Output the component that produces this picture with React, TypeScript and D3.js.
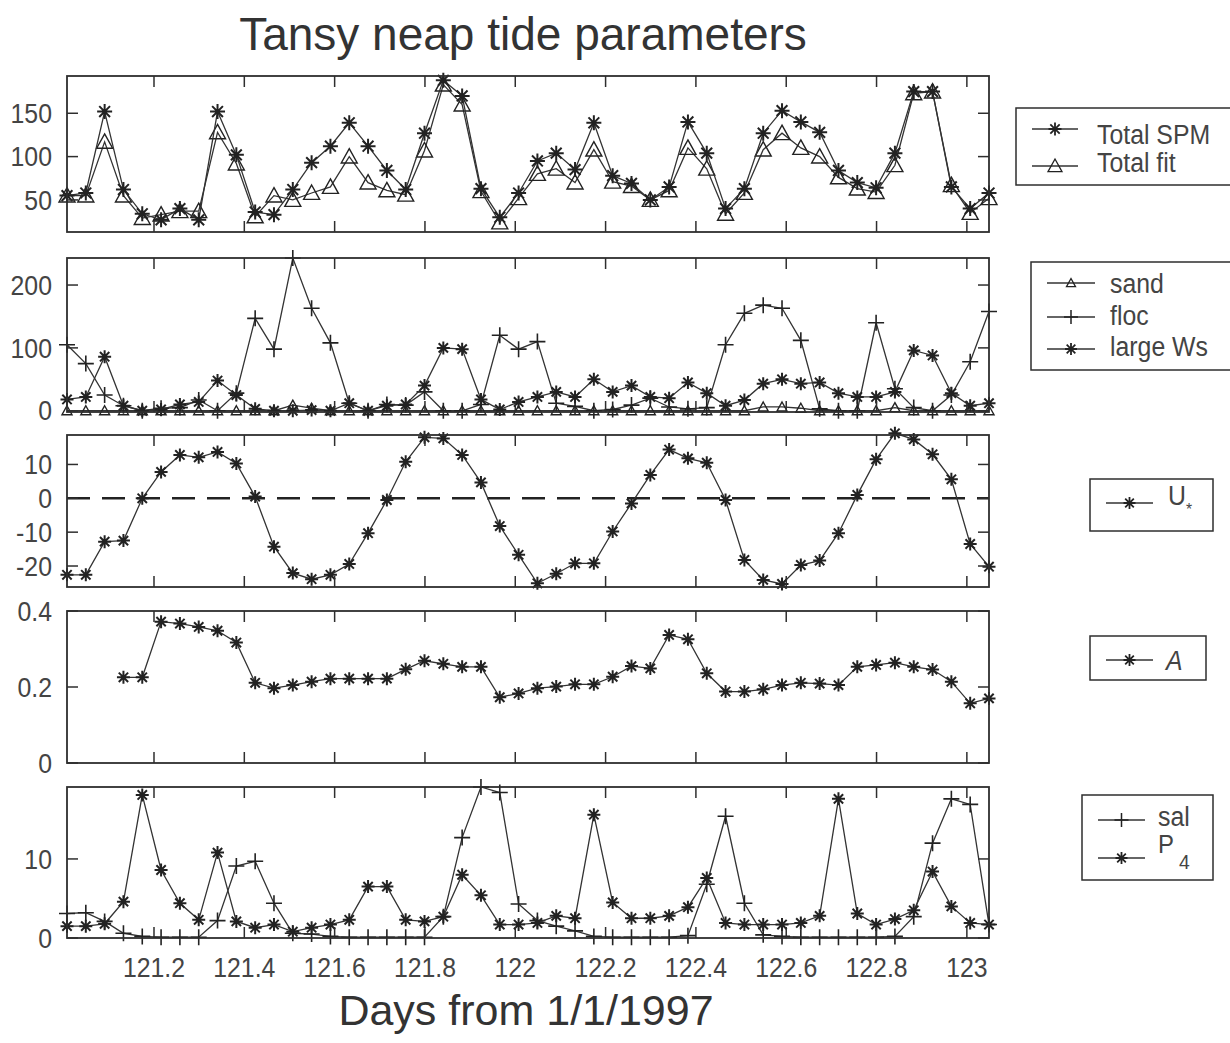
import React from 'react';
import * as d3 from 'd3';

// ---------- data ----------
const HOURS = d3.range(50); // hourly samples
const T0 = 121.00735;
const xTicks = [121.2, 121.4, 121.6, 121.8, 122, 122.2, 122.4, 122.6, 122.8, 123];
const xTickLabels = ['121.2', '121.4', '121.6', '121.8', '122', '122.2', '122.4', '122.6', '122.8', '123'];

const totalSPM = [55, 58, 152, 62, 34, 27, 40, 27, 152, 102, 36, 33, 62, 93, 112, 139, 112, 84, 62, 127, 188, 170, 63, 30, 58, 95, 104, 85, 139, 78, 69, 50, 65, 140, 104, 40, 63, 127, 153, 140, 128, 84, 70, 64, 104, 175, 175, 65, 40, 58];
const totalFit = [55, 55, 117, 55, 29, 33, 37, 37, 128, 92, 31, 55, 50, 58, 65, 100, 70, 61, 56, 107, 183, 160, 60, 24, 52, 80, 86, 70, 108, 71, 66, 50, 61, 110, 86, 34, 58, 108, 127, 110, 100, 76, 63, 59, 90, 173, 175, 67, 35, 52];

const sand = [0, 0, 0, 0, 0, 0, 0, 0, 0, 0, 0, 0, 9, 4, 0, 0, 0, 0, 0, 0, 0, 0, 0, 0, 0, 0, 0, 0, 0, 0, 0, 0, 0, 0, 0, 0, 0, 6, 6, 4, 0, 0, 0, 0, 5, 0, 0, 0, 0, 0];
const floc = [105, 75, 25, 8, 0, 4, 5, 17, 0, 28, 147, 98, 243, 163, 108, 12, 0, 10, 9, 30, 0, 0, 10, 120, 98, 110, 12, 7, 0, 2, 9, 20, 6, 3, 5, 105, 155, 168, 163, 112, 3, 0, 0, 140, 35, 5, 0, 25, 78, 158];
const largeWs = [18, 22, 86, 8, 0, 2, 10, 14, 48, 25, 3, 0, 0, 1, 0, 12, 0, 8, 10, 40, 100, 98, 18, 2, 14, 22, 30, 22, 50, 30, 40, 22, 20, 45, 28, 8, 17, 43, 50, 43, 45, 28, 22, 22, 30, 96, 88, 28, 8, 12];

const uStar = [-22.6, -22.6, -12.8, -12.5, 0, 7.8, 12.8, 12.1, 13.7, 10.3, 0.5, -14.3, -22.1, -23.9, -22.6, -19.4, -10.3, -0.5, 10.8, 18, 17.7, 12.8, 4.7, -8.2, -16.7, -25.1, -22.3, -19.2, -19.2, -9.8, -1.5, 6.9, 14.4, 11.8, 10.5, -0.5, -18.2, -24.1, -25.3, -19.7, -18.4, -10.3, 1, 11.5, 19.2, 17.4, 13, 5.6, -13.5, -20.2];

const aParam = [null, null, null, 0.2255, 0.2255, 0.372, 0.367, 0.358, 0.348, 0.317, 0.211, 0.197, 0.205, 0.214, 0.222, 0.222, 0.222, 0.222, 0.2465, 0.269, 0.261, 0.253, 0.253, 0.173, 0.183, 0.197, 0.201, 0.207, 0.207, 0.227, 0.255, 0.249, 0.337, 0.3255, 0.236, 0.188, 0.188, 0.194, 0.205, 0.211, 0.209, 0.205, 0.253, 0.258, 0.264, 0.253, 0.246, 0.214, 0.157, 0.17];

const sal = [3.1, 3.2, 2.1, 0.6, 0.2, 0.1, 0.1, 0.1, 2.2, 9.1, 9.7, 4.4, 0.6, 0.5, 0.2, 0.1, 0.1, 0.1, 0.1, 0.1, 2.7, 12.7, 19.1, 18.4, 4.3, 2.2, 1.5, 0.9, 0.2, 0.1, 0.1, 0.1, 0.1, 0.3, 6.8, 15.4, 4.4, 0.4, 0.2, 0.1, 0.1, 0.1, 0.1, 0.1, 0.2, 2.7, 12.0, 17.6, 16.9, 1.7];
const p4 = [1.5, 1.5, 1.8, 4.6, 18.1, 8.6, 4.4, 2.3, 10.8, 2.1, 1.3, 1.7, 0.8, 1.3, 1.7, 2.3, 6.5, 6.5, 2.3, 2.1, 2.7, 8.0, 5.4, 1.7, 1.7, 1.9, 2.8, 2.5, 15.6, 4.5, 2.5, 2.5, 2.8, 3.9, 7.6, 1.9, 1.7, 1.7, 1.7, 1.9, 2.8, 17.6, 3.1, 1.7, 2.4, 3.5, 8.4, 4.0, 1.9, 1.7];

const spmTicks = [50, 100, 150];
const spmTickLabels = ['50', '100', '150'];
const compTicks = [0, 100, 200];
const compTickLabels = ['0', '100', '200'];
const uTicks = [-20, -10, 0, 10];
const uTickLabels = ['-20', '-10', '0', '10'];
const aTicks = [0, 0.2, 0.4];
const aTickLabels = ['0', '0.2', '0.4'];
const pTicks = [0, 10];
const pTickLabels = ['0', '10'];

// ---------- drawing helpers ----------
const L = 67;
const R = 989;
const TICK = 11;
const INK = '#2e2e2e';
const TXT = '#444';
const FONT = "'Liberation Sans', Arial, sans-serif";
const SX = 0.92;

const x = d3.scaleLinear().domain([T0, T0 + 49 / 24]).range([L, R]);
const times = HOURS.map((h) => T0 + h / 24);

function markerPath(kind: string, r: number) {
  if (kind === 'star') {
    const d = r * 0.72;
    return `M${-r},0H${r}M0,${-r}V${r}M${-d},${-d}L${d},${d}M${-d},${d}L${d},${-d}`;
  }
  if (kind === 'plus') return `M${-r},0H${r}M0,${-r}V${r}`;
  return `M0,${-r}L${r},${r * 0.8}L${-r},${r * 0.8}Z`;
}

type Series = { values: (number | null)[]; marker: string; r: number; sw: number };

function Panel(props: {
  top: number; bottom: number; domain: [number, number];
  ticks: number[]; labels: string[]; series: Series[]; dashedZero?: boolean; xLabels?: boolean;
}) {
  const { top, bottom, domain, ticks, labels, series, dashedZero, xLabels } = props;
  const y = d3.scaleLinear().domain(domain).range([bottom, top]);
  return (
    <g>
      {dashedZero && (
        <line x1={L} x2={R} y1={y(0)} y2={y(0)} stroke="#222" strokeWidth={2.6} strokeDasharray="23 12" />
      )}
      {series.map((s, si) => {
        const line = d3.line<number | null>()
          .defined((v) => v !== null)
          .x((_, i) => x(times[i]))
          .y((v) => y(v as number));
        return (
          <g key={si}>
            <path d={line(s.values) || ''} fill="none" stroke="#333" strokeWidth={1.3} />
            {s.values.map((v, i) => v === null ? null : (
              <path key={i} d={markerPath(s.marker, s.r)} transform={`translate(${x(times[i])},${y(v)})`}
                fill="none" stroke="#222" strokeWidth={s.sw} />
            ))}
          </g>
        );
      })}
      <rect x={L} y={top} width={R - L} height={bottom - top} fill="none" stroke={INK} strokeWidth={1.8} />
      {xTicks.map((t) => (
        <g key={t}>
          <line x1={x(t)} x2={x(t)} y1={top} y2={top + TICK} stroke={INK} strokeWidth={1.5} />
          <line x1={x(t)} x2={x(t)} y1={bottom} y2={bottom - TICK} stroke={INK} strokeWidth={1.5} />
        </g>
      ))}
      {ticks.map((t, i) => (
        <g key={t}>
          <line x1={L} x2={L + TICK} y1={y(t)} y2={y(t)} stroke={INK} strokeWidth={1.5} />
          <line x1={R} x2={R - TICK} y1={y(t)} y2={y(t)} stroke={INK} strokeWidth={1.5} />
          <text transform={`translate(52,${y(t)}) scale(${SX},1)`} dy="0.36em" textAnchor="end"
            fontFamily={FONT} fontSize={27} fill={TXT}>{labels[i]}</text>
        </g>
      ))}
      {xLabels && xTicks.map((t, i) => (
        <text key={t} transform={`translate(${x(t)},977) scale(${SX},1)`} textAnchor="middle"
          fontFamily={FONT} fontSize={27} fill={TXT}>{xTickLabels[i]}</text>
      ))}
    </g>
  );
}

function LegendRow(props: { x1: number; x2: number; y: number; marker: string; r: number; sw: number }) {
  const { x1, x2, y, marker, r, sw } = props;
  return (
    <g>
      <line x1={x1} x2={x2} y1={y} y2={y} stroke="#333" strokeWidth={1.4} />
      <path d={markerPath(marker, r)} transform={`translate(${(x1 + x2) / 2},${y})`} fill="none" stroke="#222" strokeWidth={sw} />
    </g>
  );
}

function LText(props: { x: number; y: number; children: React.ReactNode; size?: number; italic?: boolean }) {
  return (
    <text transform={`translate(${props.x},${props.y}) scale(${SX},1)`} fontFamily={FONT}
      fontSize={props.size || 27} fill={TXT} fontStyle={props.italic ? 'italic' : 'normal'}>{props.children}</text>
  );
}

export default function App() {
  return (
    <div style={{ position: 'absolute', left: 0, top: 0 }}>
      <svg width={1230} height={1043} viewBox="0 0 1230 1043" style={{ display: 'block', background: '#fff' }}>
        <rect x={0} y={0} width={1230} height={1043} fill="#fff" />
        <text x={523} y={50} textAnchor="middle" fontFamily={FONT} fontSize={46} fill="#333">Tansy neap tide parameters</text>

        <Panel top={76} bottom={232} domain={[13, 193]} ticks={spmTicks} labels={spmTickLabels}
          series={[
            { values: totalFit, marker: 'tri', r: 8, sw: 1.4 },
            { values: totalSPM, marker: 'star', r: 7.5, sw: 2 },
          ]} />
        <Panel top={258} bottom={412} domain={[-2, 243]} ticks={compTicks} labels={compTickLabels}
          series={[
            { values: sand, marker: 'tri', r: 5, sw: 1.4 },
            { values: floc, marker: 'plus', r: 8, sw: 1.6 },
            { values: largeWs, marker: 'star', r: 6.5, sw: 2 },
          ]} />
        <Panel top={435} bottom={587} domain={[-26.2, 18.7]} ticks={uTicks} labels={uTickLabels} dashedZero
          series={[{ values: uStar, marker: 'star', r: 6.5, sw: 2 }]} />
        <Panel top={611} bottom={763} domain={[0, 0.4]} ticks={aTicks} labels={aTickLabels}
          series={[{ values: aParam, marker: 'star', r: 6.5, sw: 2 }]} />
        <Panel top={787} bottom={938} domain={[0, 19.1]} ticks={pTicks} labels={pTickLabels} xLabels
          series={[
            { values: sal, marker: 'plus', r: 8, sw: 1.6 },
            { values: p4, marker: 'star', r: 6.5, sw: 2 },
          ]} />

        <text x={526} y={1025} textAnchor="middle" fontFamily={FONT} fontSize={43} fill="#333">Days from 1/1/1997</text>

        {/* legend 1 */}
        <rect x={1016} y={108} width={230} height={77} fill="none" stroke={INK} strokeWidth={1.5} />
        <LegendRow x1={1032} x2={1078} y={129} marker="star" r={6.5} sw={1.8} />
        <LegendRow x1={1032} x2={1078} y={166} marker="tri" r={7} sw={1.3} />
        <LText x={1097} y={144}>Total SPM</LText>
        <LText x={1097} y={172}>Total fit</LText>

        {/* legend 2 */}
        <rect x={1031} y={262} width={215} height={108} fill="none" stroke={INK} strokeWidth={1.5} />
        <LegendRow x1={1047} x2={1095} y={283} marker="tri" r={4.5} sw={1.3} />
        <LegendRow x1={1047} x2={1095} y={317} marker="plus" r={7} sw={1.5} />
        <LegendRow x1={1047} x2={1095} y={349} marker="star" r={6} sw={1.8} />
        <LText x={1110} y={293}>sand</LText>
        <LText x={1110} y={325}>floc</LText>
        <LText x={1110} y={356}>large Ws</LText>

        {/* legend 3 */}
        <rect x={1090} y={479} width={123} height={52} fill="none" stroke={INK} strokeWidth={1.5} />
        <LegendRow x1={1106} x2={1153} y={503} marker="star" r={6} sw={1.8} />
        <LText x={1168} y={505}>U</LText>
        <LText x={1186} y={515} size={17}>*</LText>

        {/* legend 4 */}
        <rect x={1090} y={636} width={116} height={44} fill="none" stroke={INK} strokeWidth={1.5} />
        <LegendRow x1={1106} x2={1153} y={660} marker="star" r={6} sw={1.8} />
        <LText x={1166} y={670} italic>A</LText>

        {/* legend 5 */}
        <rect x={1082} y={795} width={131} height={85} fill="none" stroke={INK} strokeWidth={1.5} />
        <LegendRow x1={1098} x2={1145} y={820} marker="plus" r={7} sw={1.5} />
        <LegendRow x1={1098} x2={1145} y={858} marker="star" r={6} sw={1.8} />
        <LText x={1158} y={826}>sal</LText>
        <LText x={1158} y={853} size={26}>P</LText>
        <LText x={1179} y={869} size={21}>4</LText>
      </svg>
    </div>
  );
}
